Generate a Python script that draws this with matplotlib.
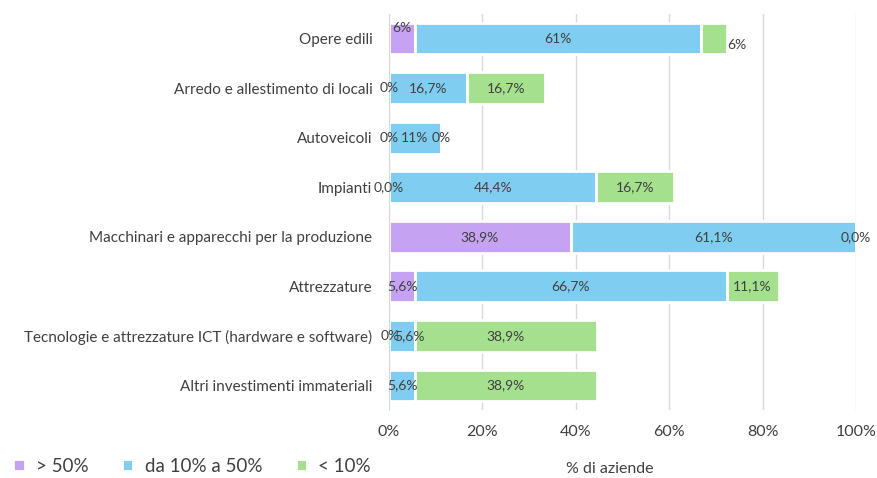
import matplotlib.pyplot as plt
import numpy as np

plt.rcParams['font.family'] = ['Lato', 'DejaVu Sans']

categories = [
    "Opere edili",
    "Arredo e allestimento di locali",
    "Autoveicoli",
    "Impianti",
    "Macchinari e apparecchi per la produzione",
    "Attrezzature",
    "Tecnologie e attrezzature ICT (hardware e software)",
    "Altri investimenti immateriali",
]
series_names = ["> 50%", "da 10% a 50%", "< 10%"]
over_50 = [5.6, 0, 0, 0, 38.9, 5.6, 0, 0]
from_10_to_50 = [61.1, 16.7, 11.1, 44.4, 61.1, 66.7, 5.6, 5.6]
under_10 = [5.6, 16.7, 0, 16.7, 0, 11.1, 38.9, 38.9]
labels_over_50 = ["6%", "0%", "0%", "0,0%", "38,9%", "5,6%", "0%", ""]
labels_10_50 = ["61%", "16,7%", "11%", "44,4%", "61,1%", "66,7%", "5,6%", "5,6%"]
labels_under_10 = ["6%", "16,7%", "0%", "16,7%", "0,0%", "11,1%", "38,9%", "38,9%"]
ticks = [0, 20, 40, 60, 80, 100]

colors = ["#C6A3F2", "#7FCDF0", "#A4E08E"]
text_color = "#404040"

fig = plt.figure(figsize=(8.78, 4.78), dpi=100)
ax = fig.add_axes([0.443, 0.142, 0.532, 0.829])

y = np.arange(len(categories))
left = np.zeros(len(categories))
all_values = [over_50, from_10_to_50, under_10]
all_labels = [labels_over_50, labels_10_50, labels_under_10]
for values, labs, color, name in zip(all_values, all_labels, colors, series_names):
    values = np.array(values)
    ax.barh(y, values, left=left, height=0.64, color=color,
            edgecolor="white", linewidth=2, label=name, zorder=2)
    for i, (v, lab) in enumerate(zip(values, labs)):
        if not lab:
            continue
        x = left[i] + v / 2
        dy = 0
        # a few labels sit off-centre in the reference
        if i == 0 and name == "> 50%":
            dy = -0.22
        if i == 0 and name == "< 10%":
            x = left[i] + v + 2.2
            dy = 0.12
        if i == 6 and name == "> 50%":
            x += 0.3
        if i == 6 and name == "da 10% a 50%":
            x += 1.6
        ax.text(x, y[i] + dy, lab, ha="center", va="center",
                fontsize=10, color=text_color, zorder=3)
    left = left + values

ax.set_xlim(0, 100)
ax.set_ylim(len(categories) - 0.5, -0.5)
ax.set_yticks(y)
ax.set_yticklabels(categories, fontsize=11, color=text_color)
ax.set_xticks(ticks)
ax.set_xticklabels([f"{t}%" for t in ticks], fontsize=11.5, color=text_color)
ax.tick_params(axis="both", length=0)
ax.tick_params(axis="y", pad=12)
ax.tick_params(axis="x", pad=11)
ax.grid(axis="x", color="#D9D9D9", linewidth=1, zorder=0)
for side in ["top", "right", "bottom"]:
    ax.spines[side].set_visible(False)
ax.spines["left"].set_color("#D9D9D9")
ax.set_xlabel("% di aziende", fontsize=11.5, color=text_color)
ax.xaxis.set_label_coords(0.473, -0.13)

handles, names = ax.get_legend_handles_labels()
fig.legend(handles, names, loc="lower left", bbox_to_anchor=(-0.004, -0.028),
           ncol=3, frameon=False, fontsize=13.5, handlelength=0.6,
           handleheight=0.6, columnspacing=1.8, handletextpad=0.6,
           labelcolor=text_color)

fig.savefig("out.png", dpi=100)
